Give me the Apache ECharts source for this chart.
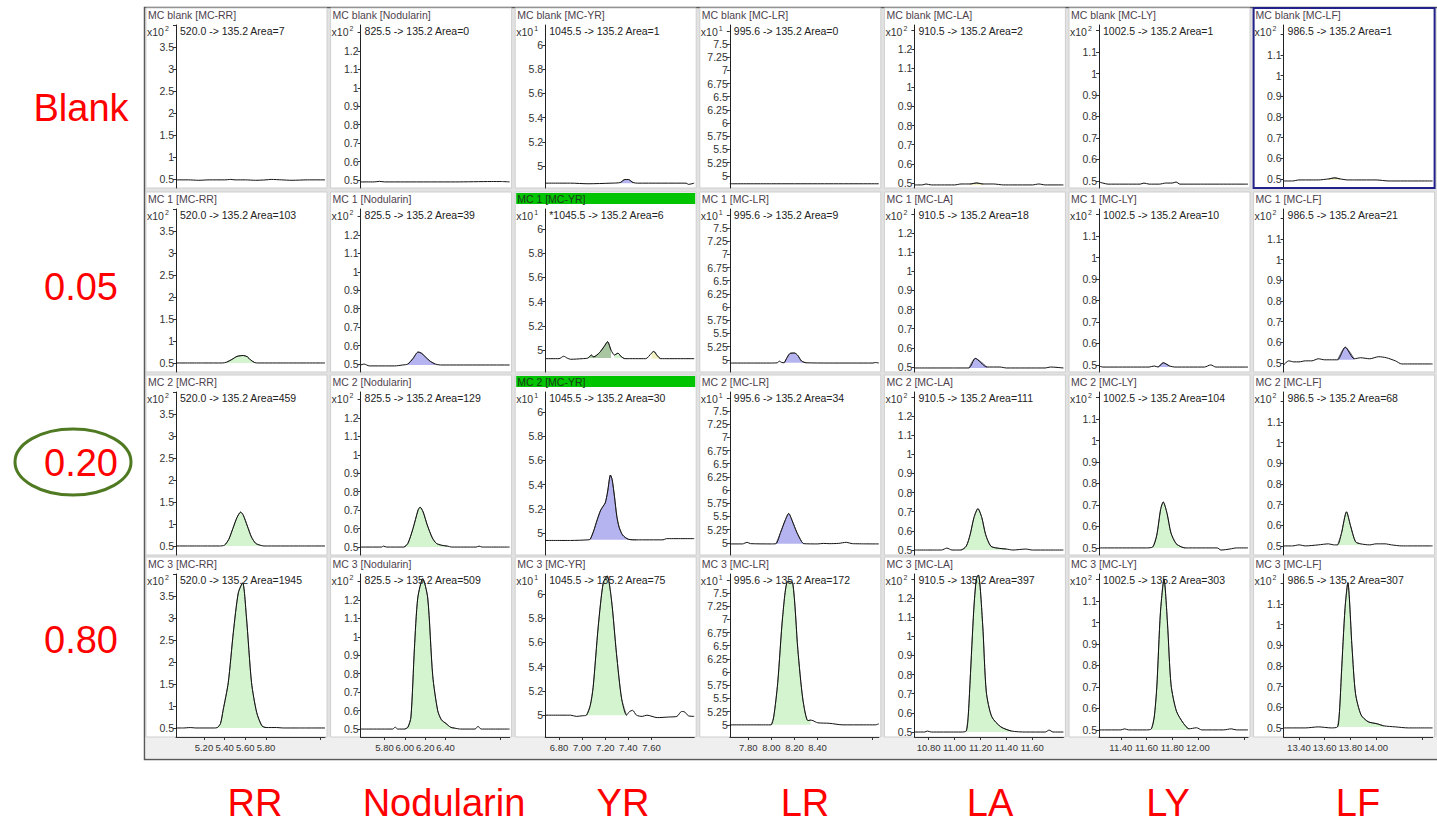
<!DOCTYPE html>
<html>
<head>
<meta charset="utf-8">
<title>Microcystin MRM chromatograms</title>
<script src="https://cdn.jsdelivr.net/npm/echarts@6/dist/echarts.min.js"></script>
<style>
html, body { margin: 0; padding: 0; background: #ffffff; }
#chart { width: 1437px; height: 827px; }
</style>
</head>
<body>
<div id="chart"></div>
<script>
// ---- analytes (columns) and spike levels (rows) ----
const analytes = ['RR', 'Nodularin', 'YR', 'LR', 'LA', 'LY', 'LF'];
const compoundNames = ['MC-RR', 'Nodularin', 'MC-YR', 'MC-LR', 'MC-LA', 'MC-LY', 'MC-LF'];
const transitions = ['520.0 -> 135.2', '825.5 -> 135.2', '1045.5 -> 135.2', '995.6 -> 135.2',
                     '910.5 -> 135.2', '1002.5 -> 135.2', '986.5 -> 135.2'];
const scaleExponents = [2, 2, 1, 1, 2, 2, 2];
const levels = ['Blank', '0.05', '0.20', '0.80'];
const sampleNames = ['MC blank', 'MC 1', 'MC 2', 'MC 3'];

// integrated areas per sample
const areaBlank = [7, 0, 1, 0, 2, 1, 1];
const area005 = [103, 39, 6, 9, 18, 10, 21];
const area020 = [459, 129, 30, 34, 111, 104, 68];
const area080 = [1945, 509, 75, 172, 397, 303, 307];
// manually integrated results (row, column), shown with a leading *
const manualResults = [[1, 2]];

// acquisition time windows (min) and axis ticks
const timeRanges = [[4.93, 6.37], [5.565, 7.03], [6.68, 7.97], [7.64, 8.93],
                    [10.69, 11.84], [11.23, 12.39], [13.28, 14.44]];
const timeTicks = [[5.2, 5.4, 5.6, 5.8], [5.8, 6.0, 6.2, 6.4], [6.8, 7.0, 7.2, 7.4, 7.6],
                   [7.8, 8.0, 8.2, 8.4], [10.8, 11.0, 11.2, 11.4, 11.6],
                   [11.4, 11.6, 11.8, 12.0], [13.4, 13.6, 13.8, 14.0]];
const timeEndTicks = [6.32, 6.94, null, 8.87, null, 12.36, 14.36];

// intensity windows (counts x10^n) and ticks
const intensityRanges = [[0.295, 4.0], [0.457, 1.34], [4.82, 6.165], [4.77, 7.86],
                         [0.474, 1.325], [0.467, 1.226], [0.456, 1.245]];
const intensityTicks = [[0.5, 1, 1.5, 2, 2.5, 3, 3.5],
                        [0.5, 0.6, 0.7, 0.8, 0.9, 1, 1.1, 1.2],
                        [5, 5.2, 5.4, 5.6, 5.8, 6],
                        [5, 5.25, 5.5, 5.75, 6, 6.25, 6.5, 6.75, 7, 7.25, 7.5],
                        [0.5, 0.6, 0.7, 0.8, 0.9, 1, 1.1, 1.2],
                        [0.5, 0.6, 0.7, 0.8, 0.9, 1, 1.1],
                        [0.5, 0.6, 0.7, 0.8, 0.9, 1, 1.1]];
const intensityTopTicks = [4.0, 1.3, null, 7.75, 1.3, 1.2, 1.2];

// ---- chromatogram traces [time, intensity] ----
// blank
const rrBlank = [[4.93,0.48],[5.05,0.48],[5.15,0.47],[5.25,0.48],[5.40,0.48],[5.46,0.49],[5.50,0.48],[5.60,0.48],[5.70,0.47],[5.80,0.48],[5.85,0.49],[5.95,0.48],[6.05,0.47],[6.20,0.48],[6.37,0.48]];
const nodBlank = [[5.565,0.49],[5.70,0.49],[5.75,0.493],[5.80,0.49],[6.00,0.49],[6.50,0.49],[6.85,0.492],[6.95,0.492],[7.03,0.49]];
const yrBlank = [[6.68,4.86],[6.90,4.86],[7.05,4.855],[7.25,4.86],[7.33,4.865],[7.37,4.89],[7.40,4.89],[7.44,4.865],[7.48,4.86],[7.90,4.86],[7.92,4.85],[7.97,4.86]];
const lrBlank = [[7.64,4.85],[8.00,4.85],[8.40,4.85],[8.93,4.85]];
const laBlank = [[10.69,0.49],[10.75,0.49],[10.78,0.495],[10.82,0.49],[10.90,0.49],[11.00,0.49],[11.05,0.495],[11.12,0.495],[11.17,0.50],[11.22,0.495],[11.30,0.495],[11.38,0.49],[11.45,0.49],[11.60,0.49],[11.65,0.495],[11.70,0.49],[11.84,0.49]];
const lyBlank = [[11.23,0.495],[11.26,0.49],[11.30,0.485],[11.55,0.485],[11.58,0.49],[11.62,0.485],[11.70,0.485],[11.75,0.49],[11.80,0.49],[11.83,0.495],[11.86,0.485],[12.00,0.485],[12.39,0.485]];
const lfBlank = [[13.28,0.49],[13.35,0.49],[13.40,0.495],[13.50,0.495],[13.55,0.495],[13.63,0.50],[13.68,0.505],[13.72,0.50],[13.78,0.495],[13.85,0.495],[14.00,0.495],[14.10,0.49],[14.44,0.49]];
// 0.05
const rr005 = [[4.93,0.5],[5.20,0.5],[5.38,0.5],[5.42,0.52],[5.47,0.58],[5.52,0.65],[5.58,0.67],[5.62,0.64],[5.65,0.57],[5.69,0.51],[5.72,0.5],[6.00,0.5],[6.37,0.5]];
const nod005 = [[5.565,0.495],[5.60,0.50],[5.65,0.49],[5.90,0.49],[5.98,0.495],[6.03,0.50],[6.08,0.53],[6.13,0.565],[6.16,0.56],[6.20,0.54],[6.25,0.515],[6.30,0.50],[6.35,0.495],[6.60,0.495],[6.90,0.495],[7.03,0.495]];
const yr005 = [[6.68,4.93],[6.80,4.93],[6.84,4.95],[6.87,4.935],[6.90,4.925],[7.00,4.93],[7.05,4.935],[7.08,4.96],[7.10,4.945],[7.15,4.98],[7.19,5.03],[7.22,5.07],[7.25,5.00],[7.28,4.96],[7.31,4.975],[7.34,4.945],[7.37,4.93],[7.55,4.93],[7.60,4.975],[7.62,4.99],[7.65,4.955],[7.68,4.93],[7.97,4.93]];
const lr005 = [[7.64,4.94],[8.00,4.94],[8.05,4.945],[8.07,4.975],[8.09,4.95],[8.11,4.945],[8.13,5.02],[8.16,5.12],[8.20,5.13],[8.23,5.08],[8.26,4.98],[8.30,4.945],[8.50,4.94],[8.88,4.94],[8.90,4.95],[8.93,4.94]];
const la005 = [[10.69,0.495],[11.00,0.495],[11.11,0.495],[11.16,0.545],[11.25,0.50],[11.35,0.50],[11.40,0.495],[11.70,0.495],[11.74,0.50],[11.84,0.495]];
const ly005 = [[11.23,0.495],[11.26,0.49],[11.50,0.49],[11.62,0.49],[11.66,0.495],[11.69,0.49],[11.73,0.51],[11.78,0.495],[11.82,0.49],[12.05,0.49],[12.10,0.50],[12.14,0.49],[12.39,0.49]];
const lf005 = [[13.28,0.49],[13.32,0.51],[13.36,0.505],[13.40,0.505],[13.45,0.51],[13.50,0.51],[13.55,0.52],[13.60,0.515],[13.65,0.515],[13.70,0.515],[13.76,0.576],[13.83,0.52],[13.88,0.525],[13.95,0.52],[14.02,0.53],[14.08,0.525],[14.15,0.51],[14.20,0.495],[14.44,0.495]];
// 0.20
const rr020 = [[4.93,0.5],[5.20,0.5],[5.35,0.5],[5.40,0.52],[5.44,0.65],[5.48,0.90],[5.52,1.15],[5.555,1.27],[5.58,1.20],[5.62,0.95],[5.66,0.70],[5.70,0.56],[5.74,0.52],[5.78,0.5],[6.10,0.5],[6.37,0.5]];
const nod020 = [[5.565,0.5],[5.77,0.5],[5.79,0.505],[5.82,0.5],[5.99,0.5],[6.03,0.52],[6.08,0.60],[6.13,0.70],[6.15,0.716],[6.18,0.69],[6.22,0.62],[6.27,0.55],[6.31,0.52],[6.36,0.51],[6.42,0.505],[6.46,0.5],[6.70,0.5],[6.73,0.505],[6.76,0.5],[7.03,0.5]];
const yr020 = [[6.68,4.94],[6.90,4.94],[7.05,4.945],[7.07,4.95],[7.10,5.02],[7.13,5.11],[7.16,5.19],[7.18,5.22],[7.20,5.25],[7.22,5.34],[7.245,5.48],[7.26,5.44],[7.28,5.30],[7.30,5.14],[7.32,5.05],[7.35,4.985],[7.40,4.95],[7.47,4.945],[7.70,4.945],[7.73,4.955],[7.97,4.955]];
const lr020 = [[7.64,4.98],[7.75,4.98],[7.79,5.01],[7.82,4.985],[8.00,4.98],[8.04,4.985],[8.08,5.20],[8.12,5.43],[8.15,5.557],[8.18,5.42],[8.22,5.20],[8.26,5.03],[8.28,4.985],[8.40,4.98],[8.45,4.99],[8.50,4.985],[8.58,4.99],[8.65,5.01],[8.70,4.985],[8.93,4.98]];
const la020 = [[10.69,0.5],[10.90,0.5],[10.94,0.51],[10.98,0.5],[11.05,0.5],[11.09,0.52],[11.12,0.58],[11.15,0.67],[11.18,0.716],[11.21,0.67],[11.24,0.58],[11.28,0.52],[11.33,0.51],[11.40,0.505],[11.45,0.5],[11.55,0.505],[11.60,0.5],[11.84,0.5]];
const ly020 = [[11.23,0.5],[11.60,0.5],[11.65,0.505],[11.68,0.56],[11.71,0.68],[11.73,0.714],[11.76,0.66],[11.79,0.57],[11.83,0.52],[11.87,0.505],[11.90,0.5],[12.15,0.5],[12.18,0.49],[12.25,0.495],[12.30,0.5],[12.39,0.5]];
const lf020 = [[13.28,0.5],[13.35,0.5],[13.40,0.505],[13.45,0.5],[13.55,0.505],[13.63,0.51],[13.67,0.505],[13.70,0.505],[13.73,0.56],[13.77,0.665],[13.80,0.60],[13.84,0.52],[13.88,0.51],[13.95,0.505],[14.00,0.51],[14.07,0.51],[14.12,0.505],[14.20,0.5],[14.44,0.5]];
// 0.80
const rr080 = [[4.93,0.5],[5.00,0.5],[5.07,0.51],[5.12,0.5],[5.30,0.5],[5.33,0.51],[5.36,0.60],[5.385,0.90],[5.435,1.53],[5.484,2.67],[5.532,3.57],[5.574,3.80],[5.61,3.04],[5.66,1.53],[5.71,0.85],[5.76,0.55],[5.80,0.51],[5.90,0.51],[5.97,0.5],[6.10,0.5],[6.37,0.5]];
const nod080 = [[5.565,0.5],[5.88,0.5],[5.905,0.51],[5.93,0.5],[5.996,0.5],[6.03,0.51],[6.06,0.565],[6.094,0.935],[6.127,1.21],[6.176,1.315],[6.225,1.21],[6.274,0.79],[6.323,0.60],[6.36,0.55],[6.405,0.53],[6.45,0.51],[6.49,0.505],[6.55,0.5],[6.69,0.5],[6.72,0.515],[6.75,0.5],[7.03,0.5]];
const yr080 = [[6.68,5.0],[6.90,5.0],[6.95,4.99],[7.00,4.995],[7.037,5.0],[7.07,5.08],[7.095,5.23],[7.139,5.73],[7.182,6.09],[7.216,6.15],[7.254,5.95],[7.297,5.51],[7.341,5.14],[7.384,5.0],[7.41,5.03],[7.437,5.04],[7.47,5.0],[7.52,4.99],[7.56,5.0],[7.65,4.98],[7.75,4.985],[7.82,4.99],[7.86,5.03],[7.88,5.03],[7.92,4.995],[7.97,4.99]];
const lr080 = [[7.64,5.0],[7.95,5.0],[7.997,5.0],[8.02,5.15],[8.055,5.80],[8.098,7.06],[8.142,7.72],[8.185,7.69],[8.229,6.43],[8.272,5.49],[8.316,5.08],[8.34,5.09],[8.36,5.08],[8.40,5.04],[8.50,5.03],[8.62,5.0],[8.80,5.0],[8.90,5.0],[8.93,5.02]];
const la080 = [[10.69,0.5],[10.77,0.5],[10.79,0.505],[10.82,0.5],[11.01,0.5],[11.05,0.5],[11.09,0.505],[11.105,0.58],[11.12,0.767],[11.148,1.136],[11.168,1.30],[11.184,1.32],[11.217,1.06],[11.245,0.71],[11.287,0.58],[11.357,0.527],[11.44,0.505],[11.55,0.5],[11.70,0.5],[11.73,0.51],[11.76,0.5],[11.84,0.5]];
const ly080 = [[11.23,0.5],[11.40,0.5],[11.43,0.505],[11.46,0.5],[11.60,0.5],[11.638,0.505],[11.66,0.56],[11.68,0.70],[11.708,1.045],[11.736,1.203],[11.763,0.998],[11.791,0.71],[11.833,0.587],[11.888,0.53],[11.93,0.505],[11.99,0.51],[12.03,0.5],[12.20,0.5],[12.26,0.505],[12.30,0.5],[12.39,0.5]];
const lf080 = [[13.28,0.5],[13.45,0.5],[13.55,0.505],[13.65,0.5],[13.70,0.505],[13.715,0.58],[13.73,0.76],[13.758,1.077],[13.78,1.203],[13.813,0.887],[13.84,0.666],[13.883,0.563],[13.938,0.53],[14.008,0.52],[14.06,0.51],[14.15,0.505],[14.25,0.5],[14.44,0.5]];

// integrated peak spans: [column, from, to, baseline, kind]
const peaksBlank = [[2,7.33,7.46,4.86,'qualifier'],[4,11.10,11.26,0.49,'noise'],[6,13.62,13.76,0.495,'noise']];
const peaks005 = [[0,5.40,5.70,0.5,'target'],[1,6.03,6.32,0.495,'qualifier'],[2,7.05,7.27,4.935,'mixed'],
                  [2,7.27,7.39,4.935,'target'],[2,7.57,7.68,4.93,'noise'],[3,8.11,8.30,4.945,'qualifier'],
                  [4,11.11,11.25,0.495,'qualifier'],[5,11.69,11.78,0.49,'qualifier'],[6,13.70,13.83,0.515,'qualifier']];
const peaks020 = [[0,5.40,5.76,0.5,'target'],[1,5.99,6.44,0.5,'target'],[2,7.07,7.47,4.945,'qualifier'],
                  [3,8.04,8.28,4.985,'qualifier'],[4,11.05,11.40,0.5,'target'],[5,11.65,11.90,0.5,'target'],
                  [6,13.70,13.88,0.505,'target']];
const peaks080 = [[0,5.33,5.80,0.5,'target'],[1,5.996,6.49,0.5,'target'],[2,7.037,7.384,5.0,'target'],
                  [3,7.997,8.34,5.0,'target'],[4,11.09,11.44,0.5,'target'],[5,11.638,11.93,0.5,'target'],
                  [6,13.70,14.06,0.505,'target']];

// ---- assembled per row ----
const traces = [
  [rrBlank, nodBlank, yrBlank, lrBlank, laBlank, lyBlank, lfBlank],
  [rr005, nod005, yr005, lr005, la005, ly005, lf005],
  [rr020, nod020, yr020, lr020, la020, ly020, lf020],
  [rr080, nod080, yr080, lr080, la080, ly080, lf080]
];
const areas = [areaBlank, area005, area020, area080];
const peaks = [peaksBlank, peaks005, peaks020, peaks080];

// ---- layout and styling ----
const FONT = '"Liberation Sans", Arial, sans-serif';
const PANEL_X0 = 146, COL_STEP = 184.6, PANEL_W = 181, PANEL_H = 180;
const ROW_TOPS = [8, 192, 375, 557];
const AXIS_OFFSET = 30, PLOT_TOP = 17, PLOT_H = 163, PLOT_W = 149;
const fillColors = { target: '#d4f4d0', qualifier: '#b6b4f0', mixed: '#a9c6a2', noise: '#f3f0c4' };
const highlighted = [[1, 2], [2, 2]];
const selectedPanel = [0, 6];
const levelLabelY = [108, 287, 463, 640];
const analyteLabelX = [255, 444, 623, 805, 990, 1168, 1358];

const grids = [], xAxes = [], yAxes = [], series = [], graphics = [];

graphics.push({ type: 'rect', z: -20, silent: true,
  shape: { x: 144.5, y: 7.5, width: 1310, height: 752 },
  style: { fill: '#e2e2e2', stroke: '#595959', lineWidth: 1.5 } });
graphics.push({ type: 'rect', z: -19, silent: true,
  shape: { x: 145.5, y: 737, width: 1300, height: 21.5 },
  style: { fill: '#efefef' } });

function isIn(list, r, c) { return list.some(p => p[0] === r && p[1] === c); }
function txt(x, y, text, size, color, align, valign, extra) {
  return Object.assign({ type: 'text', z: 100, silent: true, x: x, y: y,
    style: { text: text, fontSize: size, fontFamily: FONT, fill: color,
      textAlign: align, align: align, textVerticalAlign: valign, verticalAlign: valign } }, extra || {});
}

levels.forEach((lvl, r) => {
  analytes.forEach((an, c) => {
    const idx = r * analytes.length + c;
    const L = PANEL_X0 + c * COL_STEP;
    const T = ROW_TOPS[r];
    const axisX = L + AXIS_OFFSET;

    // panel background
    graphics.push({ type: 'rect', z: -15, silent: true,
      shape: { x: L, y: T, width: PANEL_W, height: PANEL_H },
      style: { fill: '#ffffff', stroke: '#cfcfcf', lineWidth: 1 } });
    if (isIn(highlighted, r, c)) {
      graphics.push({ type: 'rect', z: -14, silent: true,
        shape: { x: L + 1, y: T + 1, width: PANEL_W - 2, height: 11 },
        style: { fill: '#00c400' } });
    }
    if (selectedPanel[0] === r && selectedPanel[1] === c) {
      graphics.push({ type: 'rect', z: 90, silent: true,
        shape: { x: L, y: T, width: PANEL_W, height: PANEL_H },
        style: { fill: 'none', stroke: '#22228a', lineWidth: 2 } });
    }

    // header texts
    graphics.push(txt(L + 2, T + 7, sampleNames[r] + ' [' + compoundNames[c] + ']', 10.5,
      isIn(highlighted, r, c) ? '#1d3a1d' : '#4e3f4e', 'left', 'middle'));
    graphics.push(txt(L + 1, T + 24, 'x10', 10.5, '#333333', 'left', 'middle'));
    graphics.push(txt(L + 19, T + 20, String(scaleExponents[c]), 7, '#333333', 'left', 'middle'));
    const mark = isIn(manualResults, r, c) ? '*' : '';
    graphics.push(txt(axisX + 4, T + 23, mark + transitions[c] + ' Area=' + areas[r][c], 10.5,
      '#222222', 'left', 'middle'));

    grids.push({ left: axisX, top: T + PLOT_TOP, width: PLOT_W, height: PLOT_H, containLabel: false });

    const xt = timeTicks[c].slice();
    if (timeEndTicks[c] !== null) xt.push(timeEndTicks[c]);
    const isBottom = r === levels.length - 1;
    xAxes.push({
      type: 'value', gridIndex: idx, min: timeRanges[c][0], max: timeRanges[c][1],
      show: isBottom,
      axisLine: { show: isBottom, onZero: false, lineStyle: { color: '#333333', width: 1 } },
      axisTick: { show: isBottom, inside: false, length: 3, customValues: xt,
        lineStyle: { color: '#333333' } },
      axisLabel: { show: isBottom, customValues: timeTicks[c], margin: 5,
        formatter: v => v.toFixed(2), fontSize: 9.5, fontFamily: FONT, color: '#333333' },
      splitLine: { show: false }
    });

    const yt = intensityTicks[c].slice();
    if (intensityTopTicks[c] !== null) yt.push(intensityTopTicks[c]);
    yAxes.push({
      type: 'value', gridIndex: idx, min: intensityRanges[c][0], max: intensityRanges[c][1],
      axisLine: { show: true, onZero: false, lineStyle: { color: '#222222', width: 1 } },
      axisTick: { show: true, inside: false, length: 3, customValues: yt,
        lineStyle: { color: '#333333' } },
      axisLabel: { show: true, customValues: intensityTicks[c], margin: 2,
        formatter: v => String(v), fontSize: 10.5, fontFamily: FONT, color: '#333333' },
      splitLine: { show: false }
    });

    const trace = traces[r][c];
    peaks[r].filter(p => p[0] === c).forEach(p => {
      series.push({
        type: 'line', xAxisIndex: idx, yAxisIndex: idx, silent: true, z: 2,
        data: trace.filter(pt => pt[0] >= p[1] - 1e-9 && pt[0] <= p[2] + 1e-9),
        symbol: 'none', smooth: 0.25,
        lineStyle: { width: 0.6, color: '#333333' },
        areaStyle: { color: fillColors[p[4]], opacity: 1, origin: p[3] }
      });
    });
    series.push({
      type: 'line', xAxisIndex: idx, yAxisIndex: idx, silent: true, z: 3,
      data: trace, symbol: 'none', smooth: 0.25,
      lineStyle: { width: 1, color: '#111111' }
    });
  });
});

// concentration labels on the left, analyte names underneath
levels.forEach((lvl, r) => {
  graphics.push(txt(81, levelLabelY[r], lvl, 38, '#ff0000', 'center', 'middle'));
});
graphics.push({ type: 'ellipse', z: 100, silent: true,
  shape: { cx: 73, cy: 462, rx: 58, ry: 33 },
  style: { fill: 'none', stroke: '#4f7a22', lineWidth: 3 } });
analytes.forEach((an, c) => {
  graphics.push(txt(analyteLabelX[c], 803, an, 38, '#ff0000', 'center', 'middle'));
});

const chart = echarts.init(document.getElementById('chart'), null, { renderer: 'svg' });
chart.setOption({
  animation: false,
  backgroundColor: '#ffffff',
  grid: grids,
  xAxis: xAxes,
  yAxis: yAxes,
  series: series,
  graphic: { elements: graphics }
});
</script>
</body>
</html>
